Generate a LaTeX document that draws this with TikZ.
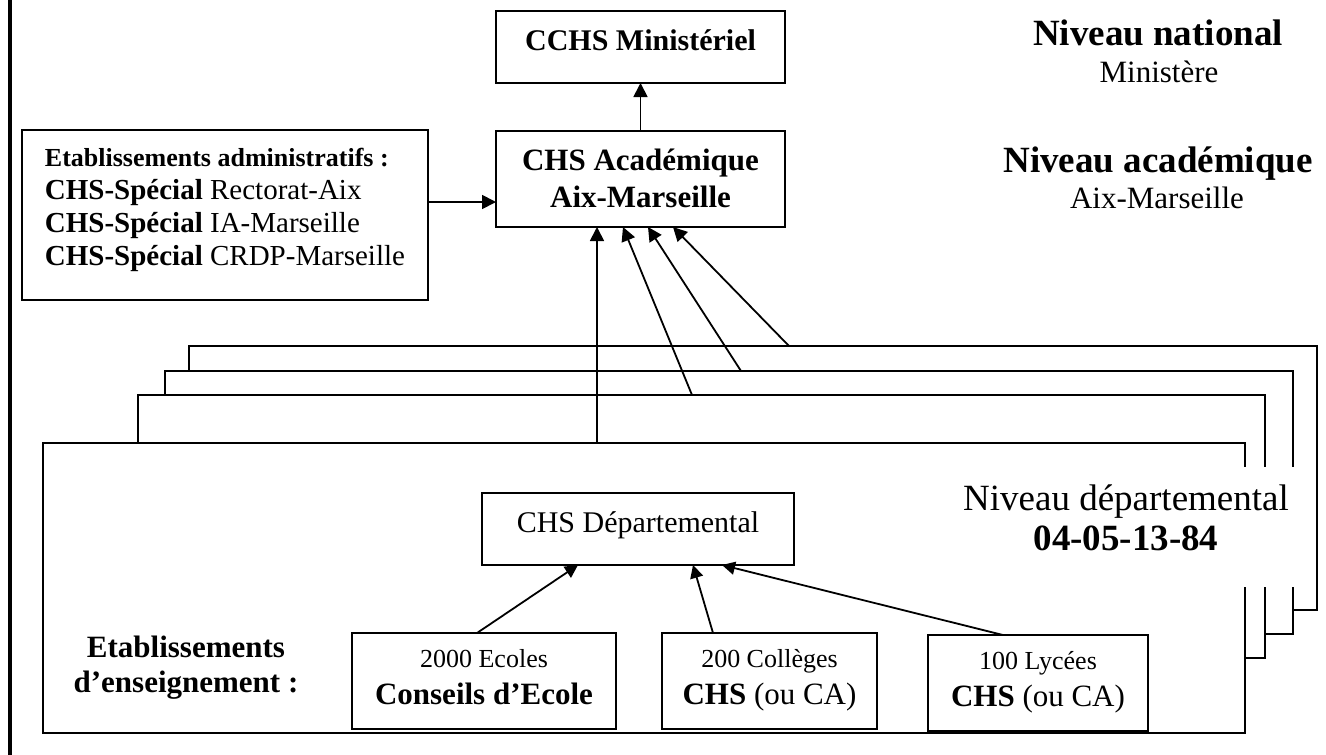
\documentclass[tikz,border=0pt]{standalone}
\usepackage{fontspec}
\setmainfont{Liberation Serif}
\usetikzlibrary{arrows.meta}
\newcommand{\mytab}[2][0pt]{\raisebox{#1}[\height][\depth]{\begin{tabular}{@{}c@{}}#2\end{tabular}}}
\newcommand{\mytabl}[2][0pt]{\raisebox{#1}[\height][\depth]{\begin{tabular}{@{}l@{}}#2\end{tabular}}}
\newcommand{\fsz}[2]{\fontsize{#1}{#2}\selectfont}
\begin{document}
\begin{tikzpicture}[x=1pt,y=-1pt,
  box/.style={draw, line width=2pt, fill=white, inner sep=0pt, outer sep=0pt, anchor=north west},
  arr/.style={-{Triangle[length=14pt,width=14pt]}, line width=1.8pt},
  sarr/.style={-{Triangle[length=13pt,width=13pt]}, line width=1.8pt},
  txt/.style={inner sep=0pt, anchor=base}]
\useasboundingbox (0,0) rectangle (1326,755);
\draw[line width=4pt] (9.5,0) -- (9.5,755);

% national / academic level
\node[box, minimum width=289pt, minimum height=72pt, font=\fsz{30}{37}\bfseries] (mini) at (496,11) {\mytab[4pt]{CCHS Ministériel}};
\node[box, minimum width=289pt, minimum height=96pt, font=\fsz{31}{37}\bfseries] (acad) at (496,131) {\mytab[-3pt]{CHS Académique\\Aix-Marseille}};
\node[box, minimum width=406pt, minimum height=170pt, font=\fsz{29}{33}] (admin) at (22,130)
  {\mytabl[6pt]{{\fsz{26}{33}\bfseries Etablissements administratifs :}\\
   \textbf{CHS-Spécial} Rectorat-Aix\\
   \textbf{CHS-Spécial} IA-Marseille\\
   \textbf{CHS-Spécial} CRDP-Marseille}};
\draw[arr] (acad.north) -- (mini.south);
\draw[arr] ([yshift=13pt]admin.east) -- ([yshift=13pt]admin.east -| acad.west);

\node[txt, font=\fsz{37}{43}\bfseries] (natl) at (1158,45) {Niveau national};
\node[txt, font=\fsz{31}{36}] (natlsub) at (1159,82) {Ministère};
\node[txt, font=\fsz{37}{43}\bfseries] (acadl) at (1158,172) {Niveau académique};
\node[txt, font=\fsz{31}{36}] (acadlsub) at (1157,208) {Aix-Marseille};

% stacked departmental frames
\node[box, minimum width=1128pt, minimum height=264pt] (bD) at (189,346) {};
\node[box, minimum width=1128pt, minimum height=263pt] (bC) at (165,371) {};
\node[box, minimum width=1127pt, minimum height=263pt] (bB) at (138,395) {};
\node[box, minimum width=1202pt, minimum height=290pt] (bA) at (43,443) {};

\draw[arr] ([xshift=554pt]bA.north west) -- ([xshift=101pt]acad.south west);
\draw[arr] ([xshift=554pt]bB.north west) -- ([xshift=127pt]acad.south west);
\draw[arr] ([xshift=576pt]bC.north west) -- ([xshift=152pt]acad.south west);
\draw[arr] ([xshift=600pt]bD.north west) -- ([xshift=177pt]acad.south west);

% departmental content
\node[box, minimum width=312pt, minimum height=72pt, font=\fsz{30}{36}] (dept) at (482,493) {\mytab[4pt]{CHS Départemental}};
\node[inner sep=0pt, font=\fsz{31}{35}\bfseries] (etab) at (186,668) {\mytab{Etablissements\\d’enseignement :}};

\node[box, minimum width=264pt, minimum height=96pt, font=\fsz{26}{37}] (ecol) at (352,633)
  {\mytab[2pt]{2000 Ecoles\\{\fsz{31}{37}\bfseries Conseils d’Ecole}}};
\node[box, minimum width=215pt, minimum height=96pt, font=\fsz{26}{37}] (coll) at (662,633)
  {\mytab[2pt]{200 Collèges\\{\fsz{31}{37}\textbf{CHS} (ou CA)}}};
\node[box, minimum width=220pt, minimum height=96pt, font=\fsz{26}{37}] (lyc) at (928,635)
  {\mytab[2pt]{100 Lycées\\{\fsz{31}{37}\textbf{CHS} (ou CA)}}};

\draw[sarr] ([xshift=125pt]ecol.north west) -- ([xshift=96pt]dept.south west);
\draw[sarr] ([xshift=51pt]coll.north west) -- ([xshift=211pt]dept.south west);
\draw[sarr] ([xshift=75pt]lyc.north west) -- ([xshift=240pt]dept.south west);

\node[fill=white, inner sep=0pt, minimum width=350pt, minimum height=120pt, font=\fsz{37}{40}] (dep) at (1126,527)
  {\mytab[5pt]{Niveau départemental\\\bfseries 04-05-13-84}};
\end{tikzpicture}
\end{document}
